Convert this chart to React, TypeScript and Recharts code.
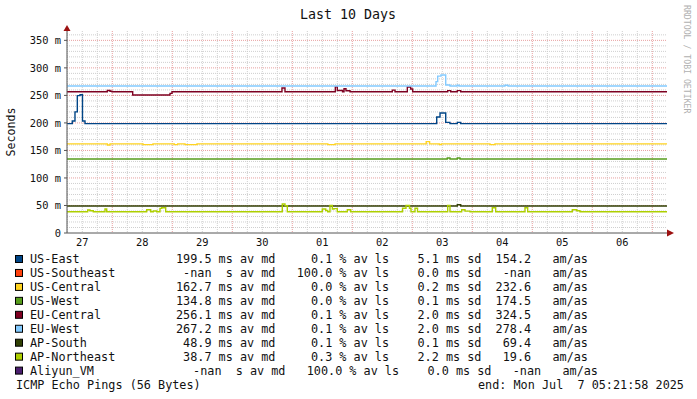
import React from 'react';
import {
  CartesianGrid,
  ComposedChart,
  Line,
  ReferenceDot,
  XAxis,
  YAxis,
} from 'recharts';

// x = days since Jun 27 00:00, y = ms
const X0 = 0.245;
const X1 = 10.245;
const Y_MAX = 367;

const dayLabels = ['27', '28', '29', '30', '01', '02', '03', '04', '05', '06'];
const dayNoons = [0.5, 1.5, 2.5, 3.5, 4.5, 5.5, 6.5, 7.5, 8.5, 9.5];
const dayBounds = [1, 2, 3, 4, 5, 6, 7, 8, 9, 10];
const yTicks = [0, 50, 100, 150, 200, 250, 300, 350];

const quarterDays = Array.from({ length: 41 }, (_, i) => i * 0.25).filter(
  (d) => d > X0 && d < X1 && d % 1 !== 0,
);
const tenMs = Array.from({ length: 37 }, (_, i) => i * 10).filter((v) => v % 50 !== 0);

const names = [
  'US-East', 'US-Southeast', 'US-Central', 'US-West', 'EU-Central',
  'EU-West', 'AP-South', 'AP-Northeast', 'Aliyun_VM',
];
const colors = [
  '#004586', '#ff420e', '#ffd320', '#579d1c', '#7e0021',
  '#83caff', '#314004', '#aecf00', '#4b1f6f',
];
const medians = ['199.5', '-nan', '162.7', '134.8', '256.1', '267.2', '48.9', '38.7', '-nan'];
const medUnits = ['m', ' ', 'm', 'm', 'm', 'm', 'm', 'm', ' '];
const losses = ['0.1', '100.0', '0.0', '0.0', '0.1', '0.1', '0.1', '0.3', '100.0'];
const sds = ['5.1', '0.0', '0.2', '0.1', '2.0', '2.0', '0.1', '2.2', '0.0'];
const amas = ['154.2', '-nan', '232.6', '174.5', '324.5', '278.4', '69.4', '19.6', '-nan'];

const usEast: [number, number][] = [
  [0.245, 198.8], [0.333, 203.5], [0.378, 220], [0.417, 249.5], [0.462, 251.3],
  [0.503, 203.5], [0.545, 198.8], [6.407, 210.8], [6.462, 218], [6.557, 201],
  [6.628, 198.8], [6.75, 201], [6.807, 198.8], [10.245, 198.8],
];
const usSoutheast: [number, number][] = [];
const usCentral: [number, number][] = [
  [0.245, 162], [0.917, 160], [0.962, 162], [1.512, 160.5], [1.678, 162],
  [2.033, 160.5], [2.09, 162], [2.212, 160.5], [2.412, 162], [4.592, 160.5],
  [4.713, 162], [6.232, 166], [6.288, 162], [6.45, 160.5], [6.483, 162],
  [7.295, 160.5], [7.378, 162], [10.245, 162],
];
const usWest: [number, number][] = [
  [0.245, 134.5], [6.583, 136.3], [6.628, 134.5], [6.75, 136.3], [6.795, 134.5],
  [10.245, 134.5],
];
const euCentral: [number, number][] = [
  [0.245, 256.5], [0.917, 259], [0.962, 257.5], [0.995, 256.5], [1.34, 250.8],
  [1.962, 253.7], [1.995, 256.5], [3.828, 263.5], [3.878, 256.5], [4.717, 265.5],
  [4.75, 259], [4.837, 256.5], [4.862, 262], [4.895, 258.5], [4.962, 256.5],
  [5.667, 259.5], [5.712, 256.5], [5.917, 265.3], [5.973, 261.7], [6.007, 256.5],
  [6.59, 258.6], [6.64, 256.5], [6.75, 258.6], [6.807, 256.5], [10.245, 256.5],
];
const euWest: [number, number][] = [
  [0.245, 267], [6.395, 275], [6.423, 285], [6.478, 287], [6.557, 269],
  [6.628, 267], [6.745, 268.5], [6.778, 267], [7.545, 268.5], [7.595, 267],
  [10.245, 267],
];
const apSouth: [number, number][] = [
  [0.245, 49], [6.75, 51.4], [6.807, 49], [10.245, 49],
];
const apNortheast: [number, number][] = [
  [0.245, 38.7], [0.59, 41.8], [0.628, 40.5], [0.683, 38.7], [0.878, 43.6],
  [0.907, 38.7], [1.573, 42.3], [1.64, 38.7], [1.683, 40], [1.74, 38.7],
  [1.795, 44.7], [1.823, 46], [1.89, 38.7], [3.833, 52.7], [3.878, 49.6],
  [3.917, 38.7], [4.5, 43.6], [4.557, 41], [4.59, 38.7], [4.628, 50.2],
  [4.667, 43.6], [4.695, 44.2], [4.75, 38.7], [4.917, 42.3], [4.973, 38.7],
  [5.837, 45], [5.895, 50], [5.953, 45], [5.978, 38.7], [6.045, 45],
  [6.087, 38.7], [6.59, 50.2], [6.628, 38.7], [6.823, 42.3], [6.878, 39.7],
  [6.962, 38.7], [7.333, 46], [7.39, 38.7], [7.878, 46], [7.923, 38.7],
  [8.667, 42.3], [8.74, 40.5], [8.795, 38.7], [10.245, 38.7],
];
const aliyunVm: [number, number][] = [];

const seriesData = [
  usEast, usSoutheast, usCentral, usWest, euCentral,
  euWest, apSouth, apNortheast, aliyunVm,
];

const MONO = '"DejaVu Sans Mono", monospace';

function legendLine(i: number) {
  return (
    `${medians[i].padStart(5)} ${medUnits[i]}s av md ${losses[i].padStart(7)} % av ls` +
    ` ${sds[i].padStart(6)} ms sd ${amas[i].padStart(6)}   am/as`
  );
}

const RightArrow = (props: any) => {
  const { cx, cy } = props;
  return <path d={`M${cx} ${cy - 3.5}L${cx + 7} ${cy}L${cx} ${cy + 3.5}Z`} fill="#9c1010" />;
};
const UpArrow = (props: any) => {
  const { cx, cy } = props;
  return <path d={`M${cx - 3.5} ${cy}L${cx} ${cy - 6}L${cx + 3.5} ${cy}Z`} fill="#9c1010" />;
};

export default function App() {
  const rowY = (i: number) => 259 + i * 13.95;
  return (
    <div style={{ position: 'absolute', left: 0, top: 0, width: 697, height: 399, background: '#fff' }}>
      <ComposedChart
        width={697}
        height={399}
        margin={{ top: 31, right: 30, bottom: 136, left: 7 }}
      >
        <CartesianGrid
          horizontalValues={tenMs}
          verticalValues={quarterDays}
          stroke="#cfcfcf"
          strokeDasharray="1 1"
          fill="none"
        />
        <CartesianGrid
          horizontalValues={yTicks.filter((v) => v > 0)}
          verticalValues={dayBounds}
          stroke="#e8a0a0"
          strokeDasharray="1 1"
          fill="none"
        />
        <XAxis
          type="number"
          dataKey="x"
          domain={[X0, X1]}
          allowDataOverflow
          ticks={dayNoons}
          interval={0}
          tickFormatter={(v: number) => dayLabels[dayNoons.indexOf(v)]}
          tickLine={false}
          tickSize={0}
          tickMargin={6}
          height={30}
          axisLine={{ stroke: '#555' }}
          tick={{ fontSize: 10.4, fontFamily: MONO, fill: '#111' }}
        />
        <YAxis
          type="number"
          domain={[0, Y_MAX]}
          allowDataOverflow
          ticks={yTicks}
          interval={0}
          width={60}
          tickFormatter={(v: number) => (v === 0 ? '0' : `${v} m`)}
          tickLine={{ stroke: '#555' }}
          tickSize={3}
          tickMargin={3}
          axisLine={{ stroke: '#555' }}
          tick={{ fontSize: 10.4, fontFamily: MONO, fill: '#111' }}
        />
        {seriesData.map((s, i) =>
          s.length ? (
            <Line
              key={names[i]}
              data={s.map(([x, y]) => ({ x, y }))}
              dataKey="y"
              type="stepAfter"
              stroke={colors[i]}
              strokeWidth={1.4}
              dot={false}
              activeDot={false}
              isAnimationActive={false}
            />
          ) : null,
        )}
        <ReferenceDot x={X1} y={0} r={0} ifOverflow="visible" shape={RightArrow} />
        <ReferenceDot x={X0} y={Y_MAX} r={0} ifOverflow="visible" shape={UpArrow} />
      </ComposedChart>

      <svg
        width={697}
        height={399}
        style={{ position: 'absolute', left: 0, top: 0, pointerEvents: 'none' }}
        fontFamily={MONO}
      >
        <text x={348} y={14} dy="0.35em" textAnchor="middle" fontSize={13.3} fill="#111">
          Last 10 Days
        </text>
        <text
          transform="translate(11,132) rotate(-90)"
          dy="0.35em"
          textAnchor="middle"
          fontSize={11.6}
          fill="#111"
        >
          Seconds
        </text>
        <text
          transform="translate(687,5) rotate(90)"
          dy="0.35em"
          fontSize={8.2}
          fill="#b0b0b0"
        >
          RRDTOOL / TOBI OETIKER
        </text>
        {names.map((n, i) => (
          <g key={n}>
            <rect x={15.5} y={rowY(i) - 3.5} width={7} height={7} fill={colors[i]} stroke="#000" strokeWidth={1} />
            <text x={30} y={rowY(i)} dy="0.35em" fontSize={11.8} fill="#111">
              {n}
            </text>
            <text
              x={i === 8 ? 186 : 176}
              y={rowY(i)}
              dy="0.35em"
              fontSize={11.8}
              fill="#111"
              style={{ whiteSpace: 'pre' }}
            >
              {legendLine(i)}
            </text>
          </g>
        ))}
        <text x={16} y={385} dy="0.35em" fontSize={11.8} fill="#111">
          ICMP Echo Pings (56 Bytes)
        </text>
        <text x={478} y={385} dy="0.35em" fontSize={11.8} fill="#111" style={{ whiteSpace: 'pre' }}>
          end: Mon Jul  7 05:21:58 2025
        </text>
      </svg>
    </div>
  );
}
